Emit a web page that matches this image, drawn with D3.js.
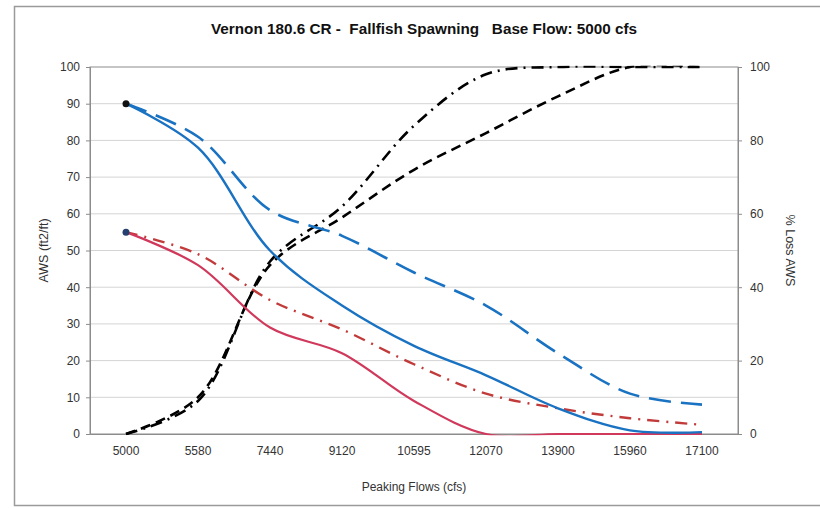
<!DOCTYPE html>
<html>
<head>
<meta charset="utf-8">
<script src="https://cdn.jsdelivr.net/npm/d3@7"></script>
<style>
  html, body { margin: 0; padding: 0; background: #fff; }
  svg { display: block; font-family: "Liberation Sans", Arial, sans-serif; }
</style>
</head>
<body>
<svg id="chart" width="820" height="508"></svg>
<script>
// Peaking flow categories (cfs)
const flows = ["5000", "5580", "7440", "9120", "10595", "12070", "13900", "15960", "17100"];

// AWS (ft2/ft), left axis
const awsBlue     = [90, 78, 50, 35, 24, 16, 7, 1, 0.5];
const awsBlueDash = [90, 81, 61, 54, 44, 35, 22, 11, 8];
const awsRed      = [55, 46, 29, 22, 9, 0, 0, 0, 0];
const awsRedDash  = [55, 49, 36.5, 28.5, 19, 11, 7, 4.3, 2.5];

// % Loss AWS, right axis
const lossDashDot = [0, 9, 47, 62, 84, 98, 100, 100, 100];
const lossDashed  = [0, 10, 46, 59, 72, 82, 92, 100, 100];

const leftTicks  = [0, 10, 20, 30, 40, 50, 60, 70, 80, 90, 100];
const rightTicks = [0, 20, 40, 60, 80, 100];

const svg = d3.select("#chart");
const plot = { left: 90, right: 738, top: 67, bottom: 434 };

const x = d3.scaleBand().domain(flows).range([plot.left, plot.right]);
const yL = d3.scaleLinear().domain([0, 100]).range([plot.bottom, plot.top]);
const yR = d3.scaleLinear().domain([0, 100]).range([plot.bottom, plot.top]);
const cx = d => x(d) + x.bandwidth() / 2;

// keep smoothed lines from straying past the 0 and 100 limits
svg.append("defs").append("clipPath").attr("id", "plot-clip")
  .append("rect")
  .attr("x", plot.left).attr("y", plot.top - 1.3)
  .attr("width", plot.right - plot.left).attr("height", plot.bottom - plot.top + 2.5);

// outer frame
svg.append("rect")
  .attr("x", 14.5).attr("y", 6.5).attr("width", 830).attr("height", 499)
  .attr("fill", "#fff").attr("stroke", "#9a9a9a").attr("stroke-width", 1.5);

// title
svg.append("text")
  .attr("x", 424).attr("y", 34)
  .attr("text-anchor", "middle")
  .attr("font-size", 14.5).attr("font-weight", "bold").attr("fill", "#111")
  .attr("textLength", 426).attr("lengthAdjust", "spacingAndGlyphs")
  .attr("xml:space", "preserve")
  .text("Vernon 180.6 CR -  Fallfish Spawning   Base Flow: 5000 cfs");

// horizontal gridlines
svg.append("g").selectAll("line")
  .data(leftTicks.filter(t => t > 0 && t < 100))
  .join("line")
  .attr("x1", plot.left).attr("x2", plot.right)
  .attr("y1", d => yL(d)).attr("y2", d => yL(d))
  .attr("stroke", "#d4d4d4").attr("stroke-width", 1);

// plot area frame
svg.append("rect")
  .attr("x", plot.left).attr("y", plot.top)
  .attr("width", plot.right - plot.left).attr("height", plot.bottom - plot.top)
  .attr("fill", "none").attr("stroke", "#8c8c8c").attr("stroke-width", 1);

// left axis
const axL = svg.append("g")
  .attr("transform", `translate(${plot.left},0)`)
  .call(d3.axisLeft(yL).tickValues(leftTicks).tickSize(4).tickPadding(6));
// right axis
const axR = svg.append("g")
  .attr("transform", `translate(${plot.right},0)`)
  .call(d3.axisRight(yR).tickValues(rightTicks).tickSize(4).tickPadding(8));
// bottom axis
const axB = svg.append("g")
  .attr("transform", `translate(0,${plot.bottom})`)
  .call(d3.axisBottom(x).tickSize(0).tickPadding(12));

[axL, axR, axB].forEach(g => {
  g.select(".domain").attr("stroke", "#8c8c8c");
  g.selectAll(".tick line").attr("stroke", "#8c8c8c");
  g.selectAll("text").attr("font-size", 12).attr("fill", "#333")
    .attr("font-family", "'Liberation Sans', Arial, sans-serif");
});

// axis titles
svg.append("text")
  .attr("transform", `translate(48,${(plot.top + plot.bottom) / 2}) rotate(-90)`)
  .attr("text-anchor", "middle").attr("font-size", 12.5).attr("fill", "#333")
  .text("AWS (ft2/ft)");
svg.append("text")
  .attr("transform", `translate(786,${(plot.top + plot.bottom) / 2}) rotate(90)`)
  .attr("text-anchor", "middle").attr("font-size", 12.5).attr("fill", "#333")
  .text("% Loss AWS");
svg.append("text")
  .attr("x", (plot.left + plot.right) / 2).attr("y", 491)
  .attr("text-anchor", "middle").attr("font-size", 12).attr("fill", "#333")
  .text("Peaking Flows (cfs)");

// series
const smooth = d3.curveCatmullRom.alpha(0.5);
const series = [
  { values: lossDashed,  scale: yR, color: "#000",    dash: "10,6",     w: 2.6 },
  { values: lossDashDot, scale: yR, color: "#000",    dash: "12,6,2,6", w: 2.6 },
  { values: awsRedDash,  scale: yL, color: "#c23b3b", dash: "12,7,2,7", w: 2.4 },
  { values: awsBlueDash, scale: yL, color: "#1a72c2", dash: "22,10",    w: 2.6 },
  { values: awsRed,      scale: yL, color: "#d0395c", dash: null,       w: 2.2 },
  { values: awsBlue,     scale: yL, color: "#1a72c2", dash: null,       w: 2.4 }
];

const lines = svg.append("g").attr("clip-path", "url(#plot-clip)");
series.forEach(s => {
  const line = d3.line()
    .x((d, i) => cx(flows[i]))
    .y(d => s.scale(d))
    .curve(smooth);
  lines.append("path")
    .datum(s.values)
    .attr("d", line)
    .attr("fill", "none")
    .attr("stroke", s.color)
    .attr("stroke-width", s.w)
    .attr("stroke-dasharray", s.dash)
    .attr("stroke-linecap", "butt");
});

// start-point markers
svg.append("circle").attr("cx", cx(flows[0])).attr("cy", yL(awsBlue[0])).attr("r", 3.5).attr("fill", "#111");
svg.append("circle").attr("cx", cx(flows[0])).attr("cy", yL(awsRed[0])).attr("r", 3.5).attr("fill", "#24406e");
</script>
</body>
</html>
